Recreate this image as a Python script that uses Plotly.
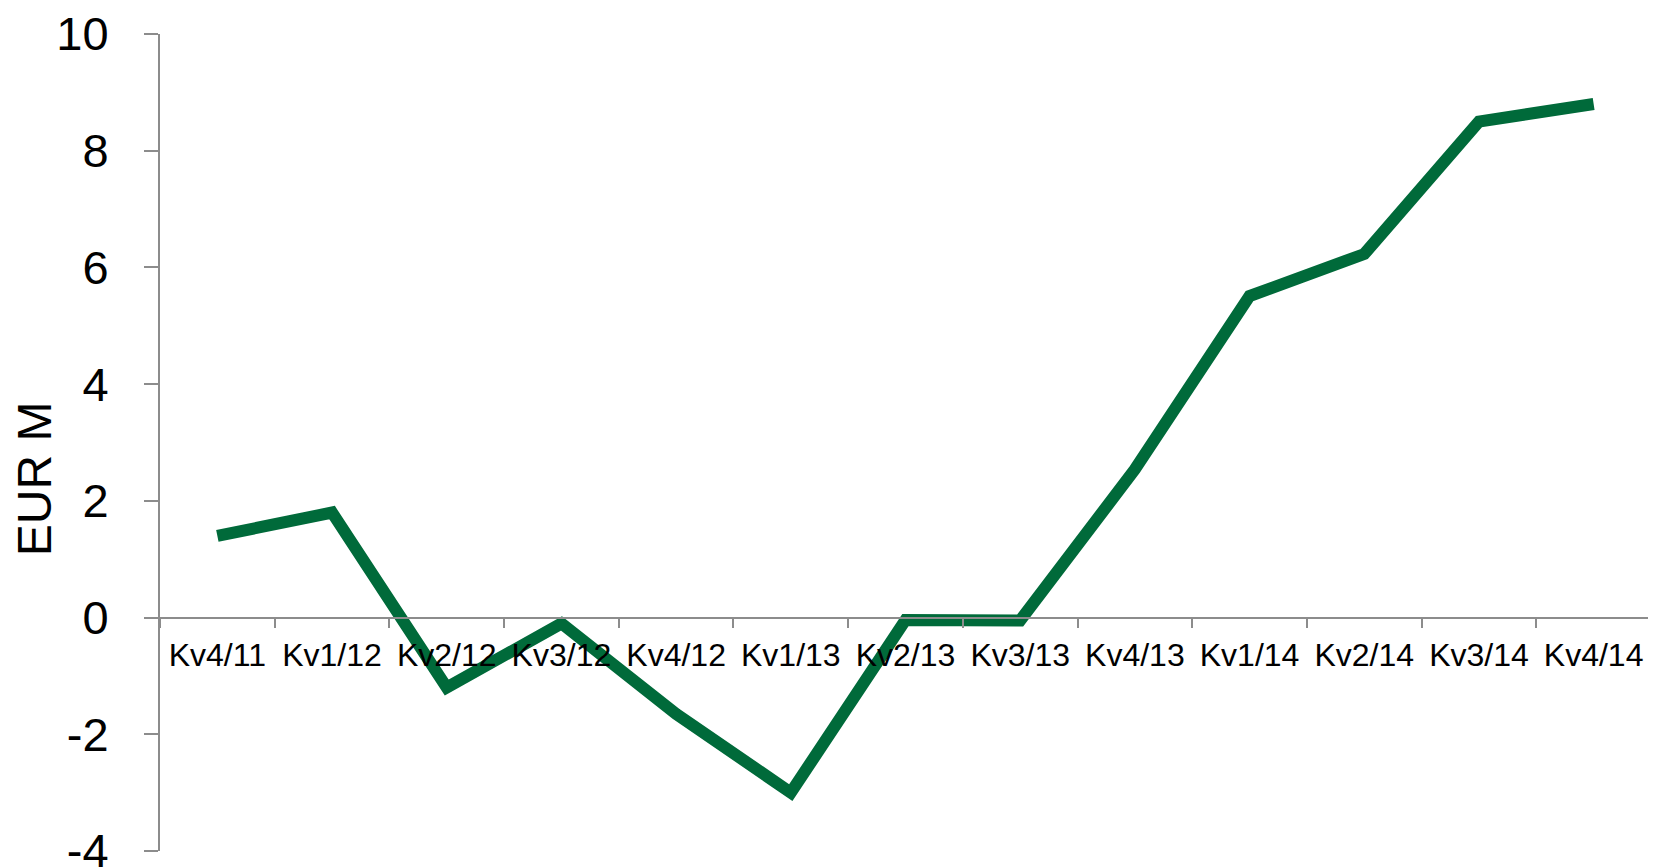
import plotly.graph_objects as go

categories = ["Kv4/11", "Kv1/12", "Kv2/12", "Kv3/12", "Kv4/12", "Kv1/13", "Kv2/13",
              "Kv3/13", "Kv4/13", "Kv1/14", "Kv2/14", "Kv3/14", "Kv4/14"]
values = [1.4, 1.8, -1.2, -0.1, -1.65, -3.0, -0.04, -0.05, 2.54, 5.51, 6.23, 8.5, 8.8]
y_ticks = [-4, -2, 0, 2, 4, 6, 8, 10]
y_tick_labels = ["-4", "-2", "0", "2", "4", "6", "8", "10"]

FONT = "Arial, Liberation Sans, sans-serif"
AXIS = "#8c8c8c"
y_min, y_max = -4, 10

fig = go.Figure()
fig.add_trace(go.Scatter(
    x=categories, y=values, mode="lines",
    line=dict(color="#006a3a", width=12),
    showlegend=False, hoverinfo="skip",
))

fig.update_layout(
    width=1656, height=867,
    margin=dict(l=152, r=13, t=26, b=24, autoexpand=False),
    paper_bgcolor="white", plot_bgcolor="white",
    font=dict(family=FONT, color="black"),
    xaxis=dict(
        type="category",
        categoryorder="array", categoryarray=categories,
        anchor="free", position=(0 - y_min) / (y_max - y_min),
        showline=True, linecolor=AXIS, linewidth=2,
        ticks="outside", ticklen=9, tickwidth=2, tickcolor=AXIS,
        tickson="boundaries",
        showgrid=False, zeroline=False,
        tickfont=dict(size=32, family=FONT, color="black"),
        range=[-0.5, len(categories) - 0.5],
        ticklabelstandoff=9,
        automargin=False,
    ),
    yaxis=dict(
        range=[y_min, y_max],
        tickvals=y_ticks, ticktext=y_tick_labels,
        showline=True, linecolor=AXIS, linewidth=2,
        ticks="outside", ticklen=14, tickwidth=2, tickcolor=AXIS,
        showgrid=False, zeroline=False,
        tickfont=dict(size=47, family=FONT, color="black"),
        ticklabelstandoff=26,
        ticklabeloverflow="allow",
        automargin=False,
    ),
    annotations=[dict(
        text="EUR M", textangle=-90,
        xref="paper", yref="paper",
        x=0, y=0.455, xanchor="center", yanchor="middle",
        xshift=-126, showarrow=False,
        font=dict(size=48, family=FONT, color="black"),
    )],
)

fig.write_html("out.html")
